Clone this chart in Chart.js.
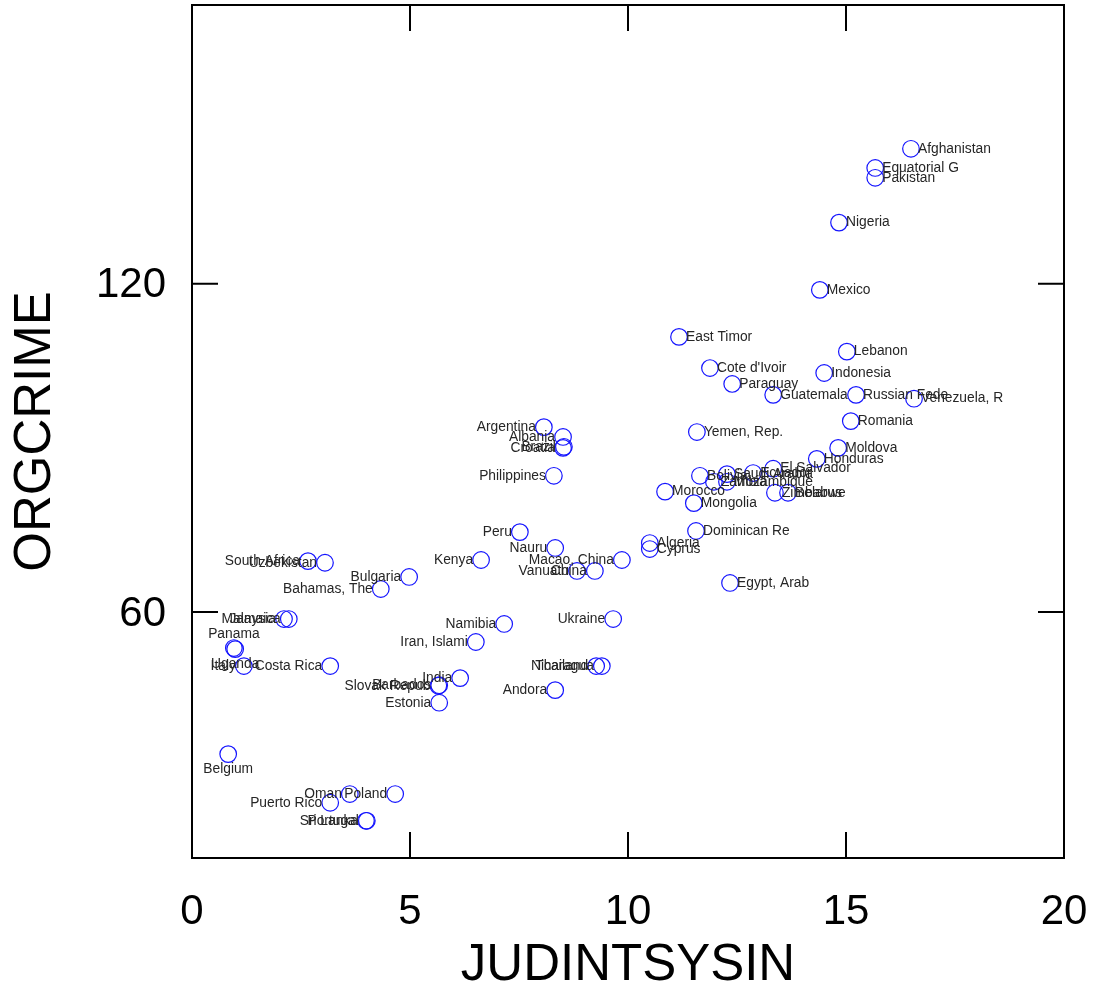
<!DOCTYPE html>
<html>
<head>
<meta charset="utf-8">
<script src="https://cdn.jsdelivr.net/npm/chart.js@4.4.0/dist/chart.umd.min.js"></script>
<style>
  html, body { margin: 0; padding: 0; background: #fff; }
  #wrap { width: 1098px; height: 988px; }
</style>
</head>
<body>
<div id="wrap"><canvas id="myChart" width="1098" height="988"></canvas></div>
<script>
// Datos
const countries = [
  'Afghanistan', 'Equatorial G', 'Pakistan', 'Nigeria', 'Mexico', 'East Timor',
  'Lebanon', "Cote d'Ivoir", 'Indonesia', 'Paraguay', 'Guatemala', 'Russian Fede',
  'Venezuela, R', 'Romania', 'Yemen, Rep.', 'Moldova', 'Honduras', 'El Salvador',
  'Bolivia', 'Zambia', 'Saudi Arabia', 'Mozambique', 'Ecuador', 'Zimbabwe', 'Belarus',
  'Morocco', 'Mongolia', 'Dominican Re', 'Algeria', 'Cyprus', 'Egypt, Arab',
  'Macao, China', 'China', 'Vanuatu', 'Nauru', 'Peru', 'Kenya',
  'Argentina', 'Albania', 'Croatia', 'Brazil', 'Philippines', 'Ukraine',
  'Thailand', 'Nicaragua', 'Andora', 'Namibia', 'Iran, Islami', 'India',
  'Barbados', 'Slovak Repub', 'Estonia', 'Bulgaria', 'Bahamas, The', 'South Africa',
  'Uzbekistan', 'Malaysia', 'Jamaica', 'Panama', 'Uganda', 'Italy', 'Costa Rica',
  'Belgium', 'Puerto Rico', 'Oman', 'Poland', 'Sri Lanka', 'Portugal'
];
const judintsysin = [
  16.49, 15.67, 15.67, 14.84, 14.40, 11.17,
  15.02, 11.88, 14.50, 12.39, 13.33, 15.23,
  16.56, 15.11, 11.58, 14.82, 14.33, 13.33,
  11.65, 11.97, 12.27, 12.27, 12.87, 13.37, 13.67,
  10.85, 11.51, 11.56, 10.50, 10.50, 12.34,
  9.86, 9.24, 8.83, 8.33, 7.52, 6.63,
  8.07, 8.51, 8.51, 8.53, 8.30, 9.66,
  9.27, 9.40, 8.33, 7.16, 6.51, 6.15,
  5.67, 5.65, 5.67, 4.98, 4.33, 2.66,
  3.05, 2.11, 2.22, 0.96, 0.99, 1.19, 3.17,
  0.83, 3.17, 3.62, 4.66, 3.99, 4.01
];
const orgcrime = [
  144.7, 141.2, 139.4, 131.2, 118.9, 110.3,
  107.6, 104.6, 103.7, 101.7, 99.7, 99.7,
  99.0, 94.9, 92.9, 90.0, 88.0, 86.2,
  84.9, 83.8, 85.2, 83.8, 85.4, 81.8, 81.8,
  82.0, 79.9, 74.8, 72.6, 71.5, 65.3,
  69.5, 67.5, 67.5, 71.7, 74.6, 69.5,
  93.8, 92.0, 90.0, 90.2, 84.9, 58.7,
  50.1, 50.1, 45.7, 57.8, 54.5, 47.9,
  46.6, 46.5, 43.4, 66.4, 64.2, 69.3,
  69.0, 58.7, 58.7, 53.4, 53.2, 50.1, 50.1,
  34.0, 25.1, 26.7, 26.7, 21.8, 21.8
];
// posicion de la etiqueta (reloj): 3 derecha, 9 izquierda, 12 arriba, 6 abajo
const labelPos = [
  3, 3, 3, 3, 3, 3,
  3, 3, 3, 3, 3, 3,
  3, 3, 3, 3, 3, 3,
  3, 3, 3, 3, 3, 3, 3,
  3, 3, 3, 3, 3, 3,
  9, 9, 9, 9, 9, 9,
  9, 9, 9, 9, 9, 9,
  9, 9, 9, 9, 9, 9,
  9, 9, 9, 9, 9, 9,
  9, 9, 9, 12, 6, 9, 9,
  6, 9, 9, 9, 9, 9
];
const xTicks = [0, 5, 10, 15, 20];
const yTicks = [60, 120];
const xTitle = 'JUDINTSYSIN';
const yTitle = 'ORGCRIME';

const FONT = '"Liberation Sans", Arial, Helvetica, sans-serif';

// Dibuja marco, marcas, etiquetas de ejes y etiquetas de puntos
const stataFrame = {
  id: 'stataFrame',
  afterDatasetsDraw(chart) {
    const ctx = chart.ctx;
    const area = chart.chartArea;
    const xs = chart.scales.x;
    const ys = chart.scales.y;

    // etiquetas de los puntos
    ctx.save();
    ctx.font = '13.8px ' + FONT;
    ctx.fillStyle = '#262626';
    ctx.textBaseline = 'middle';
    chart.getDatasetMeta(0).data.forEach((pt, i) => {
      let x = pt.x, y = pt.y;
      const pos = labelPos[i];
      if (pos === 3) { ctx.textAlign = 'left'; x += 7; }
      else if (pos === 9) { ctx.textAlign = 'right'; x -= 8; }
      else if (pos === 12) { ctx.textAlign = 'center'; y -= 14; }
      else { ctx.textAlign = 'center'; y += 15; }
      ctx.fillText(countries[i], x, y);
    });
    ctx.restore();

    // marco
    ctx.save();
    ctx.strokeStyle = '#000';
    ctx.lineWidth = 2;
    ctx.strokeRect(area.left, area.top, area.right - area.left, area.bottom - area.top);

    // marcas hacia adentro
    const tl = 26;
    ctx.beginPath();
    xTicks.forEach(v => {
      const px = xs.getPixelForValue(v);
      ctx.moveTo(px, area.bottom); ctx.lineTo(px, area.bottom - tl);
      ctx.moveTo(px, area.top); ctx.lineTo(px, area.top + tl);
    });
    yTicks.forEach(v => {
      const py = ys.getPixelForValue(v);
      ctx.moveTo(area.left, py); ctx.lineTo(area.left + tl, py);
      ctx.moveTo(area.right, py); ctx.lineTo(area.right - tl, py);
    });
    ctx.stroke();

    // etiquetas de las marcas
    ctx.fillStyle = '#000';
    ctx.font = '42px ' + FONT;
    ctx.textBaseline = 'middle';
    ctx.textAlign = 'center';
    xTicks.forEach(v => {
      ctx.fillText(String(v), xs.getPixelForValue(v), area.bottom + 54);
    });
    ctx.textAlign = 'right';
    yTicks.forEach(v => {
      ctx.fillText(String(v), area.left - 26, ys.getPixelForValue(v) + 2);
    });

    // titulos
    ctx.font = '51px ' + FONT;
    ctx.textAlign = 'center';
    ctx.fillText(xTitle, (area.left + area.right) / 2, area.bottom + 108);
    ctx.translate(36, (area.top + area.bottom) / 2);
    ctx.rotate(-Math.PI / 2);
    ctx.fillText(yTitle, 0, 0);
    ctx.restore();
  }
};

const ctx = document.getElementById('myChart').getContext('2d');
const myChart = new Chart(ctx, {
  type: 'scatter',
  data: {
    datasets: [{
      data: judintsysin.map((x, i) => ({ x: x, y: orgcrime[i] })),
      pointStyle: 'circle',
      pointRadius: 8.3,
      pointHoverRadius: 8.3,
      pointBorderWidth: 1.2,
      borderColor: '#1414ff',
      backgroundColor: 'rgba(0,0,0,0)'
    }]
  },
  options: {
    responsive: false,
    animation: false,
    events: [],
    layout: { autoPadding: false, padding: { left: 192, right: 34, top: 5, bottom: 130 } },
    plugins: { legend: { display: false }, tooltip: { enabled: false } },
    scales: {
      x: { type: 'linear', min: 0, max: 20, display: false },
      y: { type: 'linear', min: 15, max: 171, display: false }
    }
  },
  plugins: [stataFrame]
});
</script>
</body>
</html>
